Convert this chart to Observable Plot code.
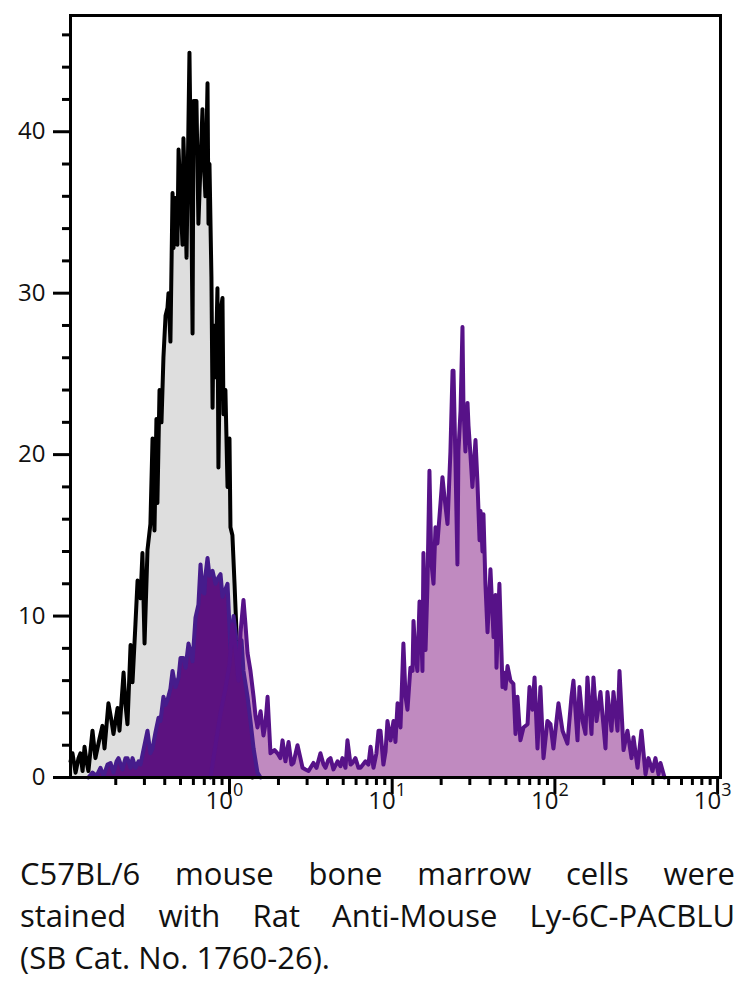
<!DOCTYPE html>
<html>
<head>
<meta charset="utf-8">
<script src="https://cdn.jsdelivr.net/npm/d3@7"></script>
<script src="https://cdn.jsdelivr.net/npm/@observablehq/plot@0.6"></script>
<style>
  html, body { margin: 0; padding: 0; background: #fff; }
  #chart svg { display: block; overflow: visible; }
  #caption { width: 715px; margin-left: 20px; padding-top: 22px; font-family: "Open Sans", sans-serif; font-size: 31px; line-height: 42px; color: #111; }
  #caption .j { text-align: justify; text-align-last: justify; }
</style>
</head>
<body>
<div id="chart"></div>
<div id="caption">
  <div class="j">C57BL/6 mouse bone marrow cells were</div>
  <div class="j">stained with Rat Anti-Mouse Ly-6C-PACBLU</div>
  <div>(SB Cat. No. 1760-26).</div>
</div>
<script>
// Isotype control (grey fill, black outline): log10 intensity and count
const controlLog = [-0.977,-0.965,-0.946,-0.928,-0.916,-0.903,-0.891,-0.879,-0.867,-0.842,-0.824,-0.799,-0.781,-0.768,-0.744,-0.725,-0.713,-0.688,-0.676,-0.651,-0.639,-0.627,-0.608,-0.596,-0.578,-0.565,-0.547,-0.535,-0.522,-0.504,-0.486,-0.473,-0.461,-0.449,-0.443,-0.430,-0.418,-0.406,-0.393,-0.381,-0.375,-0.363,-0.350,-0.344,-0.332,-0.320,-0.313,-0.301,-0.289,-0.283,-0.270,-0.264,-0.246,-0.234,-0.227,-0.221,-0.203,-0.191,-0.178,-0.166,-0.160,-0.148,-0.135,-0.129,-0.123,-0.111,-0.104,-0.098,-0.086,-0.074,-0.068,-0.055,-0.043,-0.037,-0.025,-0.012,0,0.006,0.018,0.031,0.043,0.055,0.068,0.086,0.111,0.141];
const controlCount = [1.0,1.5,0.3,1.2,1.5,0.4,1.9,1.0,0.4,2.9,1.2,2.4,3.2,1.8,4.6,3.5,2.7,4.3,2.9,6.5,4.5,3.3,8.2,5.9,9.5,12.2,11.1,13.9,8.3,14.1,15.7,21,15.3,22.2,17,24,22,26,28.6,29.1,30,27,36.2,32.8,35.9,33,38.9,36,33,39.6,35,32.2,44.9,35,27.5,41.9,41.9,34.3,38,41.4,38.6,36,43,34.3,38,31,22.9,28,24.8,30.3,19.2,28.9,29.7,22.5,24,18,21,15.5,15,12,9,5,3,1,0.3,0];

// Ly-6C dim population (dark purple fill)
const dimLog = [-0.867,-0.842,-0.817,-0.793,-0.774,-0.750,-0.731,-0.713,-0.694,-0.682,-0.658,-0.639,-0.627,-0.608,-0.596,-0.578,-0.559,-0.547,-0.529,-0.504,-0.486,-0.473,-0.455,-0.436,-0.424,-0.406,-0.393,-0.381,-0.363,-0.350,-0.332,-0.313,-0.301,-0.283,-0.270,-0.252,-0.240,-0.227,-0.209,-0.191,-0.178,-0.166,-0.154,-0.148,-0.135,-0.123,-0.104,-0.086,-0.068,-0.055,-0.043,-0.031,-0.012,0.006,0.025,0.043,0.055,0.074,0.086,0.111,0.129,0.148,0.172,0.191];
const dimCount = [0,0.3,0.1,0.6,0.1,0.8,0.9,0.3,1.0,1.2,0.5,1.2,1.2,0.6,1.2,0.6,1.0,0.8,1.7,2.9,1.5,1.8,2.8,3.7,3.5,5,4.5,4.8,5.5,6.6,5.6,6.2,7.4,7.4,6.8,8.3,7.8,7.2,9.9,10.7,13.2,11.5,11.4,12.5,13.6,12.5,12.8,12,12.4,12.6,11.2,11.5,12,8,10,8.5,7.7,8.5,6.6,5,3.5,1.8,0.3,0];

// Ly-6C bright population (mauve fill)
const brightLog = [-0.117,-0.086,-0.055,-0.025,0,0.018,0.037,0.055,0.068,0.086,0.098,0.111,0.129,0.148,0.160,0.172,0.191,0.209,0.221,0.234,0.252,0.277,0.295,0.313,0.326,0.344,0.363,0.381,0.393,0.418,0.436,0.449,0.467,0.486,0.516,0.535,0.559,0.578,0.590,0.608,0.621,0.639,0.664,0.682,0.694,0.713,0.725,0.744,0.756,0.774,0.793,0.805,0.836,0.854,0.867,0.885,0.903,0.916,0.928,0.946,0.959,0.971,0.990,1.008,1.020,1.033,1.051,1.069,1.082,1.094,1.112,1.125,1.131,1.143,1.155,1.168,1.174,1.186,1.192,1.205,1.217,1.229,1.241,1.254,1.266,1.278,1.297,1.309,1.321,1.340,1.358,1.371,1.377,1.389,1.401,1.407,1.420,1.432,1.438,1.450,1.463,1.469,1.481,1.493,1.512,1.524,1.537,1.543,1.555,1.561,1.573,1.586,1.604,1.623,1.635,1.641,1.659,1.678,1.684,1.696,1.709,1.727,1.745,1.758,1.770,1.788,1.807,1.832,1.844,1.862,1.875,1.893,1.911,1.930,1.954,1.973,1.991,2.022,2.047,2.077,2.102,2.114,2.139,2.151,2.170,2.188,2.200,2.225,2.237,2.256,2.280,2.311,2.323,2.348,2.360,2.385,2.397,2.422,2.446,2.471,2.483,2.508,2.532,2.557,2.575,2.600,2.618,2.637,2.649,2.674];
const brightCount = [0,2,4,5.5,7,9.5,8,6,9,11,9.5,7.7,6.6,5,3.8,3.1,4.1,2.6,3.3,5,1.5,1.7,1.5,1.2,2.3,1.0,2.2,0.8,0.9,2.0,1.2,0.6,0.5,0.4,0.9,0.6,1.5,0.8,0.6,1.1,1.2,0.5,1.0,0.7,1.2,0.6,2.3,0.8,0.9,1.2,0.6,0.6,1.0,0.8,1.9,0.6,1.5,2.9,2.9,0.8,1.6,3.5,2.3,3.5,2.2,4.6,3.1,8.3,5,4.2,6.8,6.6,9.7,7.6,6.6,10.9,10.5,6.6,13.9,7.9,12,19,13.3,12,15.5,14.5,17,18.6,17.4,15.7,20.2,25.2,25.2,19.5,13.2,20.2,22.7,27.9,23,20.2,23.2,21.8,20,18,20.9,18.3,14.7,16.5,14,16.3,12,9,12.9,8.7,11.3,6.8,12,5.6,6.5,5.5,6.9,6,5.8,2.7,5,2.3,3.1,3.3,5.6,4.2,6.2,1.8,5.6,1.2,3.5,3.3,1.8,4.6,2.9,2.1,5,6,2.3,5.6,3.5,2.7,6.2,2.7,6.2,3.5,5.3,1.8,5.3,2.9,5.3,2.9,6.6,1.7,2.9,1.2,2.5,0.6,2.9,0.2,1.2,0.4,1.2,0.2,0.9,0];

const yMajorTicks = [0, 10, 20, 30, 40];
const yMinorTicks = [2,4,6,8,12,14,16,18,22,24,26,28,32,34,36,38,42,44,46];
const xDecadeTicks = [1, 10, 100, 1000];
const xDecadeExponents = ["0", "1", "2", "3"];
const xMinorTicks = [0.2,0.3,0.4,0.5,0.6,0.7,0.8,0.9,2,3,4,5,6,7,8,9,20,30,40,50,60,70,80,90,200,300,400,500,600,700,800,900];

const toRows = (logs, counts) => logs.map((v, i) => ({intensity: 10 ** v, count: counts[i]}));
const control = toRows(controlLog, controlCount);
const dim = toRows(dimLog, dimCount);
const bright = toRows(brightLog, brightCount);

const supChars = {"0": "⁰", "1": "¹", "2": "²", "3": "³"};
const supBack = {"⁰": "0", "¹": "1", "²": "2", "³": "3"};
const decadeLabels = xDecadeTicks.map((t, i) => ({t, label: "10" + supChars[xDecadeExponents[i]]}));

const lineOpts = {x: "intensity", y: "count", strokeWidth: 4, strokeLinejoin: "round", strokeLinecap: "round", curve: "linear"};

const chart = Plot.plot({
  width: 749,
  height: 830,
  marginTop: 15,
  marginLeft: 70,
  marginRight: 29,
  marginBottom: 53,
  x: {type: "log", domain: [0.1054, 1042], label: null},
  y: {domain: [0, 47.2], label: null},
  style: {fontFamily: "Open Sans, sans-serif", fontSize: "24px", color: "#111", background: "white"},
  marks: [
    Plot.areaY(control, {x: "intensity", y: "count", fill: "#dedede", curve: "linear"}),
    Plot.lineY(control, {...lineOpts, stroke: "#000"}),
    Plot.areaY(bright, {x: "intensity", y: "count", fill: "#c08ac0", curve: "linear"}),
    Plot.areaY(dim, {x: "intensity", y: "count", fill: "#5c1280", curve: "linear"}),
    Plot.lineY(dim, {...lineOpts, stroke: "#461c8c"}),
    Plot.lineY(bright, {...lineOpts, stroke: "#571288"}),
    Plot.frame({stroke: "#000", strokeWidth: 3}),
    Plot.axisY({ticks: yMajorTicks, tickSize: 17, tickPadding: 8, strokeWidth: 3, stroke: "#000", fontSize: 24, label: null}),
    Plot.axisY({ticks: yMinorTicks, tickSize: 8, strokeWidth: 3, stroke: "#000", tickFormat: () => "", label: null}),
    Plot.axisX({ticks: xDecadeTicks, tickSize: 17, strokeWidth: 3, stroke: "#000", tickFormat: () => "", label: null}),
    Plot.axisX({ticks: xMinorTicks, tickSize: 8, strokeWidth: 3, stroke: "#000", tickFormat: () => "", label: null}),
    Plot.text(decadeLabels, {x: "t", text: "label", frameAnchor: "bottom", lineAnchor: "top", dy: 14, dx: -5, fontSize: 24, fill: "#111"})
  ]
});
document.getElementById("chart").appendChild(chart);

// render exponents as real superscripts
chart.querySelectorAll("text").forEach((el) => {
  const m = /^10([⁰¹²³])$/.exec(el.textContent.trim());
  if (!m) return;
  const target = el.querySelector("tspan") || el;
  target.textContent = "10";
  const sup = document.createElementNS("http://www.w3.org/2000/svg", "tspan");
  sup.setAttribute("dy", "-13");
  sup.setAttribute("font-size", "18");
  sup.textContent = supBack[m[1]];
  target.appendChild(sup);
});
</script>
</body>
</html>
